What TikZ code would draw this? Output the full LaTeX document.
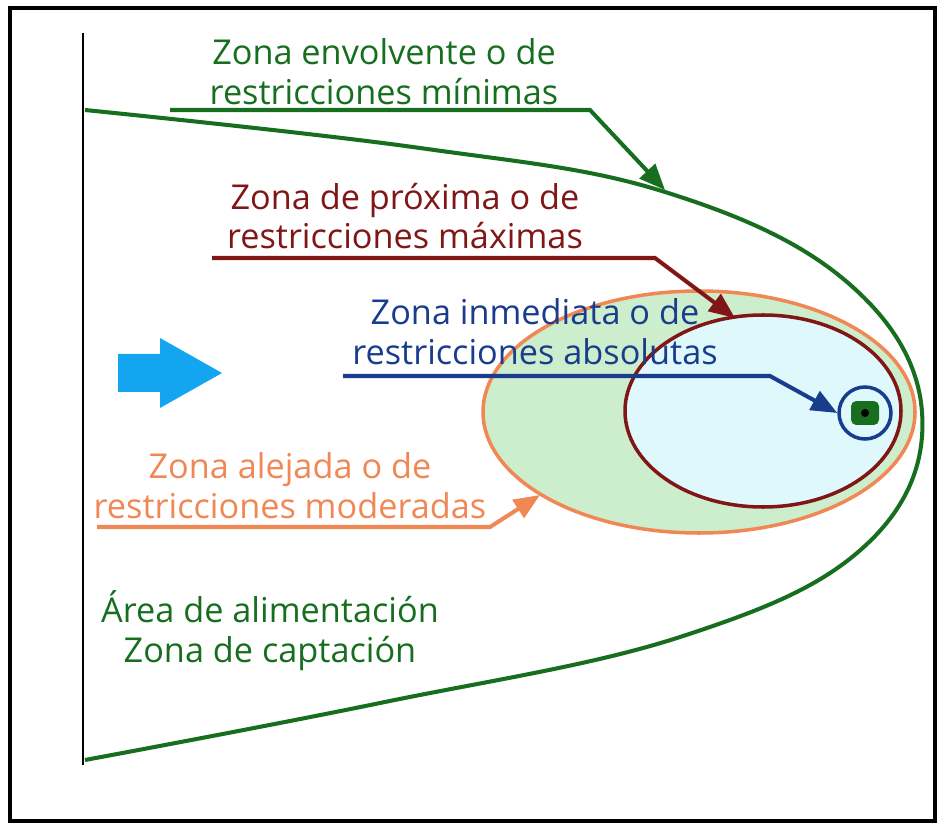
\documentclass[tikz,border=0pt]{standalone}
\usepackage{fontspec}
\setmainfont{Open Sans}
\usepackage{tikz}
\usetikzlibrary{arrows.meta, shapes}
\definecolor{zonegreen}{RGB}{22, 110, 30}
\definecolor{zonered}{RGB}{128, 22, 22}
\definecolor{zoneblue}{RGB}{25, 60, 140}
\definecolor{zoneorange}{RGB}{240, 135, 85}
\definecolor{fillgreen}{RGB}{204, 238, 204}
\definecolor{fillcyan}{RGB}{222, 248, 252}
\definecolor{flowblue}{RGB}{20, 165, 240}

\begin{document}
\begin{tikzpicture}[x=0.02cm, y=-0.02cm,
        label/.style={align=center, font=\fontsize{19.5}{22.7}\selectfont, inner sep=0pt},
        leader/.style={line width=2.3pt, -{Triangle[length=0.52cm, width=0.42cm]}}]
        \useasboundingbox (0,0) rectangle (943,827);
        \draw[line width=1.8pt] (10,8) rectangle (935,821);

        % margen del cauce
        \draw[line width=1.6pt] (83,33) -- (83,765);

        % zona alejada
        \draw[zoneorange, fill=fillgreen, line width=2pt] (699,412) ellipse (216 and 121);
        % zona proxima
        \draw[zonered, fill=fillcyan, line width=2pt] (763,411) ellipse (138 and 96);

        % zona envolvente
        \draw[zonegreen, line width=2.3pt] plot[smooth, tension=0.65] coordinates {
            (85,110) (420,148) (665,192) (847,282) (922,412) (866,545)
            (680,637) (380,703) (85,760)};

        % pozo
        \node[circle, draw=zoneblue, line width=2pt, minimum size=1.04cm, fill=fillcyan] (ring) at (865,413) {};
        \node[rounded corners=3pt, fill=zonegreen, minimum width=0.56cm, minimum height=0.48cm, inner sep=0pt] (well) at (865,413) {};
        \fill[black] (well) circle (4);

        % sentido del flujo
        \fill[flowblue] (118,354) -- (160,354) -- (160,338) -- (222,373) -- (160,408) -- (160,392) -- (118,392) -- cycle;

        % textos
        \node[label, text=zonegreen] (envolvente) at (384,72) {Zona envolvente o de\\restricciones mínimas};
        \node[label, text=zonered] (proxima) at (405,216) {Zona de próxima o de\\restricciones máximas};
        \node[label, text=zoneblue] (inmediata) at (535,332) {Zona inmediata o de\\restricciones absolutas};
        \node[label, text=zoneorange] (alejada) at (290,486) {Zona alejada o de\\restricciones moderadas};
        \node[label, text=zonegreen] (captacion) at (270,631) {Área de alimentación\\Zona de captación};

        % flechas
        \coordinate (envA) at (170,110);
        \coordinate (envB) at (590,110);
        \coordinate (envC) at (665,190);
        \draw[leader, zonegreen] (envA) -- (envB) -- (envC);
        \coordinate (proxA) at (212,258);
        \coordinate (proxB) at (655,258);
        \coordinate (proxC) at (735,318);
        \draw[leader, zonered] (proxA) -- (proxB) -- (proxC);
        \coordinate (inmA) at (343,376);
        \coordinate (inmB) at (770,376);
        \draw[leader, zoneblue] (inmA) -- (inmB) -- (ring.west);
        \coordinate (aleA) at (97,527);
        \coordinate (aleB) at (490,527);
        \coordinate (aleC) at (540,495);
        \draw[leader, zoneorange] (aleA) -- (aleB) -- (aleC);
    \end{tikzpicture}
\end{document}
